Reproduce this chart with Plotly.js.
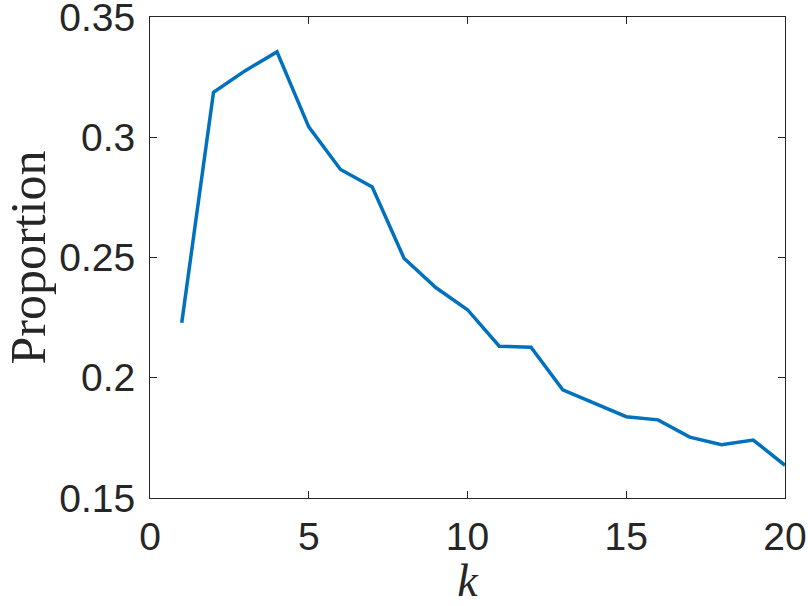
<!DOCTYPE html>
<html>
<head>
<meta charset="utf-8">
<script src="https://cdn.plot.ly/plotly-3.0.1.min.js"></script>
<style>html,body{margin:0;padding:0;background:#fff;}#chart{width:808px;height:606px;}</style>
</head>
<body>
<div id="chart"></div>
<script>
const kValues = [1,2,3,4,5,6,7,8,9,10,11,12,13,14,15,16,17,18,19,20];
const proportion = [0.2229,0.3187,0.3277,0.3355,0.3043,0.2866,0.2793,0.2497,0.2375,0.2283,
                    0.2131,0.2127,0.1950,0.1895,0.1838,0.1825,0.1753,0.1722,0.1741,0.1636];
const xTicks = [0,5,10,15,20];
const yTicks = [0.15,0.2,0.25,0.3,0.35];
const yTickText = ['0.15','0.2','0.25','0.3','0.35'];

const axisColor = '#262626';
const trace = {
  x: kValues, y: proportion, type: 'scatter', mode: 'lines',
  line: {color: '#0072BD', width: 3.5}, hoverinfo: 'skip', cliponaxis: false
};
const layout = {
  width: 808, height: 606,
  margin: {l: 149.5, r: 22.7, t: 17, b: 107.5, pad: 0},
  paper_bgcolor: '#ffffff', plot_bgcolor: '#ffffff',
  showlegend: false,
  font: {family: '"Liberation Sans", Arial, sans-serif', color: axisColor},
  xaxis: {
    range: [0, 20], tickvals: xTicks, ticktext: xTicks.map(String),
    ticks: 'inside', ticklen: 7, tickwidth: 1, tickcolor: axisColor,
    showline: true, linecolor: axisColor, linewidth: 1, mirror: 'ticks',
    showgrid: false, zeroline: false,
    tickfont: {size: 39, color: axisColor},
    ticklabelstandoff: 4, ticklabeloverflow: 'allow',
    title: {text: '<i>k</i>', font: {family: '"Liberation Serif", "Times New Roman", serif', size: 46, color: axisColor}, standoff: 14}
  },
  yaxis: {
    range: [0.15, 0.35], tickvals: yTicks, ticktext: yTickText,
    ticks: 'inside', ticklen: 7, tickwidth: 1, tickcolor: axisColor,
    showline: true, linecolor: axisColor, linewidth: 1, mirror: 'ticks',
    showgrid: false, zeroline: false,
    tickfont: {size: 39, color: axisColor},
    ticklabelstandoff: 6, ticklabeloverflow: 'allow',
    title: {text: 'Proportion', font: {family: '"Liberation Serif", "Times New Roman", serif', size: 50, color: axisColor}, standoff: 22}
  }
};
Plotly.newPlot('chart', [trace], layout, {displayModeBar: false, staticPlot: true});
</script>
</body>
</html>
